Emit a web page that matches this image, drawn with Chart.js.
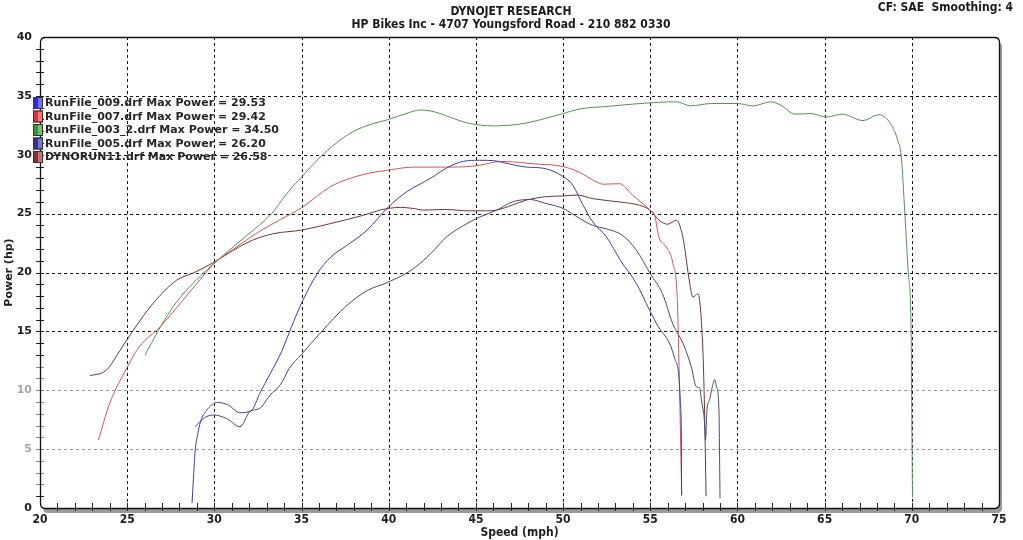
<!DOCTYPE html>
<html><head><meta charset="utf-8">
<script src="https://cdn.jsdelivr.net/npm/chart.js@4.4.1/dist/chart.umd.min.js"></script>
<style>
html,body{margin:0;padding:0;background:#fff;}
canvas{display:block;}
</style></head><body>
<canvas id="c" width="1023" height="540"></canvas>
<script>
// ---------- DATA ----------
const chartTitle = "DYNOJET RESEARCH";
const chartSubtitle = "HP Bikes Inc - 4707 Youngsford Road - 210 882 0330";
const chartInfo = "CF: SAE  Smoothing: 4";
const xAxisTitle = "Speed (mph)";
const yAxisTitle = "Power (hp)";
const xTickLabels = [20, 25, 30, 35, 40, 45, 50, 55, 60, 65, 70, 75];
const yTickLabels = [0, 5, 10, 15, 20, 25, 30, 35, 40];

const runNames = ["RunFile_009.drf", "RunFile_007.drf", "RunFile_003_2.drf", "RunFile_005.drf", "DYNORUN11.drf"];
const maxPower = [29.53, 29.42, 34.50, 26.20, 26.58];

const speed009 = [28.72, 28.8, 28.9, 29.05, 29.2, 29.56, 30.2, 30.8, 31.47, 32.14, 32.6, 33.2, 33.86, 34.4, 35.0, 35.9, 36.67, 37.6, 38.76, 40.0, 41.05, 42.4, 43.3, 44.3, 45.2, 46.0, 46.7, 47.9, 48.84, 50.0, 50.56, 51.1, 51.7, 52.5, 53.3, 54.2, 54.96, 55.5, 56.1, 56.4, 56.64, 56.72, 56.78, 56.8];
const power009 = [0.4, 2.5, 4.9, 6.3, 7.3, 8.3, 8.97, 8.74, 8.09, 8.3, 9.73, 11.4, 13.3, 15.3, 17.4, 19.9, 21.3, 22.3, 23.6, 25.6, 26.87, 28.0, 28.86, 29.45, 29.53, 29.5, 29.29, 28.95, 28.86, 28.15, 27.4, 25.85, 24.3, 23.0, 21.0, 19.07, 16.8, 15.3, 14.0, 12.7, 11.2, 9.2, 6.36, 1.1];

const speed007 = [23.35, 24.0, 24.8, 25.7, 26.9, 28.2, 29.56, 30.0, 31.1, 32.6, 33.8, 35.0, 36.67, 37.6, 38.76, 40.0, 41.4, 43.3, 45.0, 45.6, 46.37, 47.1, 48.3, 50.0, 50.95, 51.9, 52.3, 53.24, 54.0, 55.0, 55.25, 55.5, 55.9, 56.3, 56.55, 56.65, 56.75, 56.8];
const power007 = [5.77, 8.9, 11.4, 13.7, 15.4, 17.66, 20.06, 20.8, 22.0, 23.5, 24.5, 25.5, 27.3, 27.9, 28.4, 28.7, 28.95, 28.95, 29.06, 29.23, 29.42, 29.4, 29.23, 29.0, 28.5, 27.7, 27.5, 27.54, 26.55, 25.28, 24.86, 23.0, 22.2, 20.76, 17.7, 12.0, 5.0, 1.0];

const speed003 = [26.02, 26.8, 27.64, 28.4, 29.2, 30.0, 31.1, 32.23, 32.8, 33.4, 34.0, 34.5, 35.0, 36.0, 37.0, 38.0, 39.0, 40.0, 41.0, 41.8, 42.6, 43.5, 44.5, 46.0, 47.5, 48.5, 50.0, 51.0, 52.5, 54.0, 55.5, 56.5, 57.3, 58.5, 60.0, 60.9, 61.9, 62.5, 63.3, 64.2, 65.1, 66.0, 67.2, 68.1, 68.8, 69.2, 69.4, 69.6, 69.8, 69.96, 70.0, 70.04];
const power003 = [12.99, 15.1, 17.1, 18.5, 19.7, 20.8, 22.2, 23.6, 24.3, 25.2, 26.4, 27.3, 28.1, 29.7, 31.0, 32.0, 32.6, 33.0, 33.5, 33.8, 33.65, 33.2, 32.7, 32.45, 32.6, 32.9, 33.5, 33.9, 34.1, 34.3, 34.45, 34.5, 34.15, 34.35, 34.35, 34.15, 34.5, 34.2, 33.45, 33.5, 33.2, 33.45, 32.9, 33.4, 32.6, 31.2, 29.8, 25.0, 19.9, 15.1, 7.5, 0.9];

const speed005 = [28.9, 29.37, 29.94, 30.7, 31.47, 32.04, 32.6, 33.2, 33.8, 34.3, 35.0, 36.1, 37.6, 38.76, 40.0, 41.4, 42.4, 43.3, 44.3, 45.2, 46.2, 47.1, 48.1, 49.0, 50.0, 50.95, 51.7, 52.5, 53.4, 54.2, 55.0, 55.7, 56.3, 56.87, 57.35, 57.64, 57.83, 57.93, 58.1, 58.17, 58.25, 58.4, 58.56, 58.7, 58.8, 58.94, 58.98, 59.0];
const power005 = [6.9, 7.6, 7.9, 7.6, 6.9, 8.2, 8.46, 9.6, 10.5, 11.86, 13.05, 14.9, 17.2, 18.46, 19.2, 20.3, 21.6, 23.0, 24.0, 24.7, 25.3, 26.0, 26.2, 25.87, 25.44, 24.6, 24.0, 23.7, 23.16, 21.9, 19.9, 18.2, 15.6, 14.0, 12.0, 10.3, 10.2, 9.2, 7.5, 5.8, 8.3, 9.2, 10.3, 10.9, 10.3, 8.3, 3.5, 0.84];

const speed011 = [22.87, 23.8, 24.6, 25.35, 26.5, 27.84, 28.8, 29.9, 31.1, 32.2, 33.4, 35.0, 36.67, 38.57, 39.5, 40.67, 41.4, 42.0, 43.3, 44.43, 45.6, 46.2, 47.1, 47.9, 49.0, 50.0, 50.8, 51.7, 53.24, 54.4, 55.0, 55.5, 56.0, 56.5, 56.87, 57.26, 57.45, 57.73, 58.0, 58.1, 58.2];
const power011 = [11.23, 11.7, 13.4, 15.1, 17.4, 19.35, 19.97, 20.8, 21.9, 22.75, 23.3, 23.6, 24.16, 24.87, 25.3, 25.53, 25.44, 25.3, 25.36, 25.24, 25.24, 25.3, 25.73, 26.15, 26.44, 26.5, 26.58, 26.27, 25.99, 25.7, 25.28, 24.44, 24.1, 24.44, 23.0, 19.1, 17.9, 18.2, 14.0, 9.2, 1.0];

// ---------- STYLES ----------
const lineColors = ["#40409e", "#c65a5a", "#559255", "#4a4a72", "#723636"];
const swatchColors = ["#2a2ad8", "#e03434", "#2f9a2f", "#34349a", "#8e2e2e"];

const speeds = [speed009, speed007, speed003, speed005, speed011];
const powers = [power009, power007, power003, power005, power011];

function zip(xs, ys) { return xs.map((x, i) => ({ x: x, y: ys[i] })); }

const datasets = runNames.map((name, i) => ({
  label: name,
  data: zip(speeds[i], powers[i]),
  borderColor: lineColors[i],
  swatch: swatchColors[i],
  maxP: maxPower[i],
  borderWidth: 1,
  pointRadius: 0,
  fill: false,
  cubicInterpolationMode: 'monotone'
}));

const condFont = "'DejaVu Sans Condensed', 'DejaVu Sans', sans-serif";
const wideFont = "'DejaVu Sans', Verdana, sans-serif";

function roundRect(ctx, x, y, w, h, r) {
  ctx.beginPath();
  ctx.moveTo(x + r, y);
  ctx.lineTo(x + w - r, y);
  ctx.quadraticCurveTo(x + w, y, x + w, y + r);
  ctx.lineTo(x + w, y + h - r);
  ctx.quadraticCurveTo(x + w, y + h, x + w - r, y + h);
  ctx.lineTo(x + r, y + h);
  ctx.quadraticCurveTo(x, y + h, x, y + h - r);
  ctx.lineTo(x, y + r);
  ctx.quadraticCurveTo(x, y, x + r, y);
  ctx.closePath();
}

const framePlugin = {
  id: 'frame',
  beforeDatasetsDraw(chart) {
    const ctx = chart.ctx, a = chart.chartArea;
    const xs = chart.scales.x, ys = chart.scales.y;
    ctx.save();
    ctx.fillStyle = '#9a9a9a';
    roundRect(ctx, a.left + 3, a.top + 5, a.right - a.left, a.bottom - a.top, 5);
    ctx.fill();
    ctx.fillStyle = '#ffffff';
    roundRect(ctx, a.left, a.top, a.right - a.left, a.bottom - a.top, 5);
    ctx.fill();
    ctx.lineWidth = 1;
    ctx.setLineDash([3, 3]);
    yTickLabels.forEach(v => {
      if (v <= 0 || v >= 40) return;
      const y = Math.round(ys.getPixelForValue(v)) + 0.5;
      ctx.strokeStyle = v <= 10 ? '#9a9a9a' : '#111';
      ctx.beginPath(); ctx.moveTo(a.left, y); ctx.lineTo(a.right, y); ctx.stroke();
    });
    xTickLabels.forEach(v => {
      if (v <= 20 || v >= 75) return;
      const x = Math.round(xs.getPixelForValue(v)) + 0.5;
      ctx.strokeStyle = '#111';
      ctx.beginPath(); ctx.moveTo(x, a.top); ctx.lineTo(x, a.bottom); ctx.stroke();
    });
    ctx.setLineDash([]);
    for (let v = 1; v < 40; v++) {
      const y = Math.round(ys.getPixelForValue(v)) + 0.5;
      ctx.strokeStyle = (v >= 2 && v <= 12) ? '#888' : '#222';
      ctx.beginPath(); ctx.moveTo(a.left - 4, y); ctx.lineTo(a.left + 4, y); ctx.stroke();
    }
    ctx.strokeStyle = '#222';
    for (let v = 21; v < 75; v++) {
      const x = Math.round(xs.getPixelForValue(v)) + 0.5;
      ctx.beginPath(); ctx.moveTo(x, a.bottom - 5); ctx.lineTo(x, a.bottom + 3); ctx.stroke();
    }
    ctx.restore();
  },
  afterDatasetsDraw(chart) {
    const ctx = chart.ctx, a = chart.chartArea;
    ctx.save();
    ctx.strokeStyle = '#111';
    ctx.lineWidth = 1.3;
    roundRect(ctx, a.left + 0.5, a.top + 0.5, a.right - a.left, a.bottom - a.top, 5);
    ctx.stroke();
    ctx.font = "bold 11px " + wideFont;
    ctx.textBaseline = 'middle';
    chart.data.datasets.forEach((ds, i) => {
      const y = 103 + i * 13.5;
      ctx.fillStyle = ds.swatch;
      ctx.fillRect(33, y - 6, 10, 12);
      ctx.fillStyle = 'rgba(255,255,255,0.35)';
      ctx.fillRect(38, y - 5, 4, 10);
      ctx.strokeStyle = '#333';
      ctx.lineWidth = 1;
      ctx.strokeRect(33.5, y - 5.5, 9, 11);
      ctx.fillStyle = '#262626';
      ctx.fillText(ds.label + " Max Power = " + ds.maxP.toFixed(2), 45, y + 0.5);
    });
    ctx.fillStyle = '#1a1a1a';
    ctx.font = "bold 12px " + condFont;
    ctx.textAlign = 'center';
    ctx.fillText(chartTitle, 511, 12);
    ctx.fillText(chartSubtitle, 511, 25);
    ctx.textAlign = 'right';
    ctx.fillText(chartInfo, 1013, 8);
    ctx.restore();
  }
};

new Chart(document.getElementById('c'), {
  type: 'line',
  data: { datasets: datasets },
  options: {
    responsive: false,
    animation: false,
    devicePixelRatio: 1,
    layout: { padding: { top: 37, right: 24, left: 0, bottom: 0 } },
    plugins: { legend: { display: false }, tooltip: { enabled: false }, title: { display: false } },
    scales: {
      x: {
        type: 'linear', min: 20, max: 75,
        afterFit(s) { s.height = 32; },
        grid: { display: false, drawTicks: false },
        border: { display: false },
        ticks: {
          stepSize: 5, maxRotation: 0, autoSkip: false, padding: 5,
          color: '#1e1e1e',
          font: { family: condFont, weight: 'bold', size: 12 },
          callback: v => xTickLabels.includes(v) ? String(v) : ''
        },
        title: { display: true, text: xAxisTitle, color: '#1e1e1e', padding: { top: 0, bottom: 0 },
          font: { family: condFont, weight: 'bold', size: 12 } }
      },
      y: {
        type: 'linear', min: 0, max: 40,
        afterFit(s) { s.width = 40; },
        grid: { display: false, drawTicks: false },
        border: { display: false },
        ticks: {
          stepSize: 5, padding: 8, autoSkip: false,
          color: ctx => (ctx.tick && (ctx.tick.value === 10 || ctx.tick.value === 5)) ? '#a8a8a8' : '#1e1e1e',
          font: { family: wideFont, weight: 'bold', size: 11 },
          callback: v => yTickLabels.includes(v) ? String(v) : ''
        },
        title: { display: true, text: yAxisTitle, color: '#1e1e1e', padding: { top: 3, bottom: 0 },
          font: { family: wideFont, weight: 'bold', size: 11 } }
      }
    }
  },
  plugins: [framePlugin]
});
</script>
</body></html>
